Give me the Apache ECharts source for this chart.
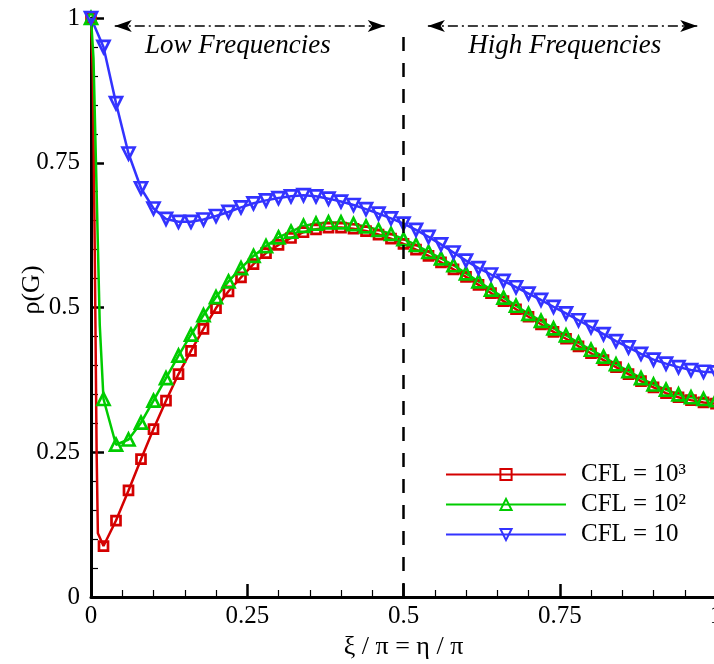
<!DOCTYPE html>
<html>
<head>
<meta charset="utf-8">
<script src="https://cdn.jsdelivr.net/npm/echarts@6/dist/echarts.min.js"></script>
<style>
  html, body { margin: 0; padding: 0; background: #fff; }
  #chart { width: 714px; height: 664px; }
</style>
</head>
<body>
<div id="chart"></div>
<script>
// Wavenumber positions (xi/pi = eta/pi) where the markers sit
var xs = [0, 0.02, 0.04, 0.06, 0.08, 0.10, 0.12, 0.14, 0.16, 0.18,
          0.20, 0.22, 0.24, 0.26, 0.28, 0.30, 0.32, 0.34, 0.36, 0.38,
          0.40, 0.42, 0.44, 0.46, 0.48, 0.50, 0.52, 0.54, 0.56, 0.58,
          0.60, 0.62, 0.64, 0.66, 0.68, 0.70, 0.72, 0.74, 0.76, 0.78,
          0.80, 0.82, 0.84, 0.86, 0.88, 0.90, 0.92, 0.94, 0.96, 0.98, 1.0];

// Spectral radius rho(G) for each CFL number
var rhoCfl1000 = [1.0, 0.088, 0.132, 0.184, 0.238, 0.290, 0.339, 0.385, 0.425, 0.463,
                  0.499, 0.528, 0.552, 0.575, 0.594, 0.608, 0.620, 0.630, 0.635, 0.638,
                  0.638, 0.636, 0.632, 0.626, 0.619, 0.610, 0.600, 0.589, 0.578, 0.566,
                  0.553, 0.539, 0.525, 0.511, 0.497, 0.484, 0.471, 0.458, 0.446, 0.433,
                  0.421, 0.409, 0.397, 0.385, 0.373, 0.362, 0.352, 0.345, 0.340, 0.336, 0.334];
var rhoCfl100  = [1.0, 0.342, 0.263, 0.272, 0.301, 0.339, 0.378, 0.417, 0.453, 0.487,
                  0.518, 0.545, 0.568, 0.589, 0.606, 0.621, 0.631, 0.641, 0.645, 0.647,
                  0.647, 0.644, 0.640, 0.634, 0.627, 0.618, 0.608, 0.596, 0.585, 0.573,
                  0.559, 0.545, 0.531, 0.517, 0.503, 0.489, 0.477, 0.464, 0.452, 0.439,
                  0.427, 0.415, 0.402, 0.390, 0.378, 0.367, 0.358, 0.350, 0.345, 0.342, 0.340];
var rhoCfl10   = [1.0, 0.950, 0.853, 0.766, 0.706, 0.671, 0.653, 0.648, 0.648, 0.652,
                  0.658, 0.665, 0.673, 0.680, 0.685, 0.689, 0.692, 0.694, 0.692, 0.688,
                  0.683, 0.677, 0.670, 0.662, 0.654, 0.645, 0.634, 0.622, 0.609, 0.595,
                  0.581, 0.568, 0.557, 0.546, 0.535, 0.524, 0.513, 0.501, 0.490, 0.478,
                  0.466, 0.454, 0.442, 0.431, 0.420, 0.410, 0.403, 0.397, 0.392, 0.389, 0.388];

// Extra unmarked curve points in the steep drop right after xi = 0
var dropCfl1000 = [[0.003, 0.90], [0.006, 0.60], [0.009, 0.25], [0.011, 0.11]];
var dropCfl100  = [[0.004, 0.93], [0.009, 0.70], [0.014, 0.47]];

var seriesNames = ['CFL = 10\u00B3', 'CFL = 10\u00B2', 'CFL = 10'];
var xTicks = [0, 0.25, 0.5, 0.75, 1];
var yTicks = [0, 0.25, 0.5, 0.75, 1];

var RED = '#d40000', GREEN = '#00cc00', BLUE = '#3333ff';
var SERIF = '"Liberation Serif", "Times New Roman", serif';

function buildData(values, drop) {
  var out = [[xs[0], values[0]]];
  (drop || []).forEach(function (p) {
    out.push({ value: p, symbol: 'none' });
  });
  for (var i = 1; i < xs.length; i++) out.push([xs[i], values[i]]);
  return out;
}

function lineSeries(name, values, drop, color, symbol, rotate, size) {
  return {
    name: name,
    type: 'line',
    data: buildData(values, drop),
    symbol: symbol,
    symbolSize: size,
    symbolRotate: rotate,
    showAllSymbol: true,
    clip: false,
    color: color,
    lineStyle: { color: color, width: 2.5 },
    itemStyle: { color: 'rgba(255,255,255,0)', borderColor: color, borderWidth: 2.7 },
    emphasis: { disabled: true },
    z: 3
  };
}

function axisCommon(ticks) {
  return {
    type: 'value',
    min: ticks[0],
    max: ticks[ticks.length - 1],
    interval: ticks[1] - ticks[0],
    axisLine: { show: true, onZero: false, lineStyle: { color: '#000', width: 3 } },
    axisTick: { show: true, inside: true, length: 13, lineStyle: { color: '#000', width: 2.5 } },
    minorTick: { show: true, splitNumber: 5, length: 7, lineStyle: { color: '#000', width: 1.2 } },
    splitLine: { show: false },
    axisLabel: {
      color: '#000', fontFamily: SERIF, fontSize: 25,
      formatter: function (v) { return String(+v.toFixed(2)); }
    }
  };
}

var xAxis = axisCommon(xTicks);
xAxis.axisLabel.margin = 7;
xAxis.name = '\u03BE / \u03C0 = \u03B7 / \u03C0';
xAxis.nameLocation = 'middle';
xAxis.nameGap = 35;
xAxis.nameTextStyle = { color: '#000', fontFamily: SERIF, fontSize: 26 };

var yAxis = axisCommon(yTicks);
yAxis.axisLabel.margin = 11;

var s1 = lineSeries(seriesNames[0], rhoCfl1000, dropCfl1000, RED, 'rect', 0, 9);
var s2 = lineSeries(seriesNames[1], rhoCfl100, dropCfl100, GREEN, 'triangle', 0, 12);
var s3 = lineSeries(seriesNames[2], rhoCfl10, null, BLUE, 'triangle', 180, 12);

// Frequency-band separator and the band arrows
var arrowStyle = { color: '#000', width: 1.5, type: [10, 4, 2, 4] };
s3.markLine = {
  silent: true,
  animation: false,
  symbol: ['none', 'none'],
  label: { show: false },
  data: [
    [{ coord: [0.5, 0], lineStyle: { color: '#000', width: 2.5, type: [14, 12] } },
     { coord: [0.5, 0.978] }],
    [{ coord: [0.038, 0.986], symbol: 'arrow', symbolSize: [9, 17], lineStyle: arrowStyle },
     { coord: [0.470, 0.986], symbol: 'arrow', symbolSize: [9, 17] }],
    [{ coord: [0.539, 0.986], symbol: 'arrow', symbolSize: [9, 17], lineStyle: arrowStyle },
     { coord: [0.970, 0.986], symbol: 'arrow', symbolSize: [9, 17] }]
  ]
};
s3.markPoint = {
  silent: true,
  animation: false,
  symbol: 'rect',
  symbolSize: 0,
  label: {
    show: true, position: 'inside', color: '#000',
    fontFamily: SERIF, fontStyle: 'italic', fontSize: 27,
    formatter: function (p) { return p.name; }
  },
  data: [
    { name: 'Low Frequencies', coord: [0.235, 0.951] },
    { name: 'High Frequencies', coord: [0.758, 0.951] }
  ]
};

var chart = echarts.init(document.getElementById('chart'), null, { renderer: 'canvas' });
chart.setOption({
  animation: false,
  backgroundColor: '#fff',
  grid: { left: 91, right: -2, top: 18, bottom: 67, containLabel: false, outerBoundsMode: 'none' },
  xAxis: xAxis,
  yAxis: yAxis,
  legend: {
    orient: 'vertical',
    left: 440,
    top: 457,
    itemWidth: 120,
    itemHeight: 14,
    itemGap: 5,
    selectedMode: false,
    data: seriesNames,
    textStyle: { color: '#000', fontFamily: SERIF, fontSize: 25, padding: [0, 0, 0, 10] }
  },
  graphic: [{
    type: 'text',
    x: 32, y: 290,
    rotation: Math.PI / 2,
    style: {
      text: '\u03C1(G)', fill: '#000', font: '26px ' + SERIF,
      align: 'center', verticalAlign: 'middle'
    }
  }],
  series: [s1, s2, s3]
});
</script>
</body>
</html>
